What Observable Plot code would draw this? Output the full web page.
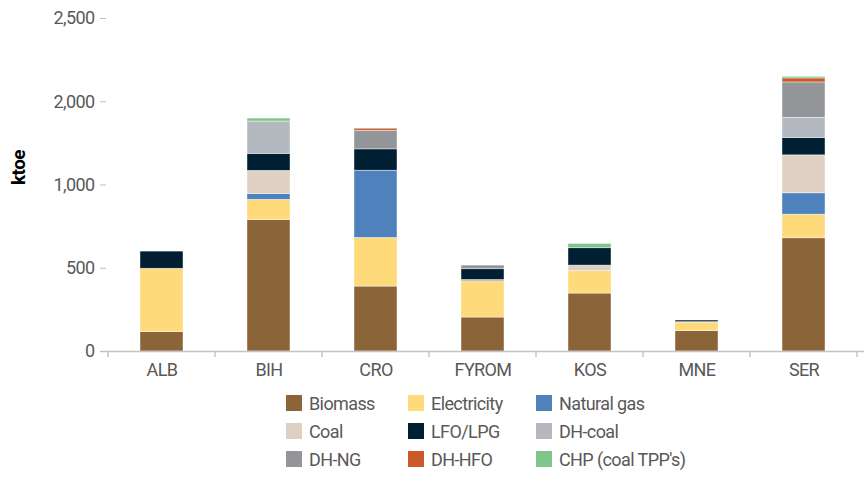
<!DOCTYPE html>
<html>
<head>
<meta charset="utf-8">
<script src="https://cdn.jsdelivr.net/npm/d3@7"></script>
<script src="https://cdn.jsdelivr.net/npm/@observablehq/plot@0.6"></script>
<style>
  body { margin: 0; background: #fff; font-family: Roboto, "DejaVu Sans Condensed", sans-serif; }
  #legend { display: grid; grid-template-columns: 122px 128px auto; margin: 4px 0 0 286px; width: 420px; }
  .item { display: flex; align-items: center; height: 28px; font-size: 18px; letter-spacing: -0.6px; color: #595959; white-space: nowrap; }
  .sw { width: 16px; height: 16px; margin-right: 7px; flex: none; }
  #chart svg text { letter-spacing: -0.6px; }
</style>
</head>
<body>
<div id="chart"></div>
<div id="legend"></div>
<script>
// Final energy consumption in households by fuel, ktoe
const countries = ["ALB", "BIH", "CRO", "FYROM", "KOS", "MNE", "SER"];
const fuels = ["Biomass", "Electricity", "Natural gas", "Coal", "LFO/LPG", "DH-coal", "DH-NG", "DH-HFO", "CHP (coal TPP's)"];
const fuelColors = ["#8b6539", "#ffda7a", "#4f81bd", "#ded1c4", "#001f33", "#b3b9bf", "#939598", "#c85b27", "#7fc68a"];

const biomass     = [116, 789, 390, 204, 348, 122, 680];
const electricity = [381, 122, 292, 218, 134,  52, 142];
const naturalGas  = [  0,  34, 404,   8,   0,   2, 128];
const coal        = [  0, 140,   0,   0,  34,   0, 228];
const lfoLpg      = [103, 102, 128,  64, 104,  10, 104];
const dhCoal      = [  0, 194,   0,   0,   0,   0, 122];
const dhNg        = [  0,   0, 112,  22,   0,   0, 212];
const dhHfo       = [  0,   0,  12,   0,   0,   0,  24];
const chp         = [  0,  18,   0,   0,  26,   0,  10];

const yTickValues = [0, 500, 1000, 1500, 2000];
const yTickLabels = ["0", "500", "1,000", "2,000", "2,500"];

const series = [biomass, electricity, naturalGas, coal, lfoLpg, dhCoal, dhNg, dhHfo, chp];
const rows = [];
countries.forEach((c, ci) => {
  series.forEach((s, fi) => {
    if (s[ci] > 0) rows.push({country: c, fuel: fuels[fi], value: s[ci]});
  });
});

const chart = Plot.plot({
  width: 864,
  height: 385,
  marginTop: 18,
  marginLeft: 106,
  marginRight: 5,
  marginBottom: 34,
  style: {fontFamily: "Roboto, 'DejaVu Sans Condensed', sans-serif", fontSize: "18px", color: "#595959", background: "white"},
  x: {domain: countries, paddingInner: 0.6, paddingOuter: 0.3, label: null},
  y: {domain: [0, 2000], label: null},
  color: {domain: fuels, range: fuelColors},
  marks: [
    Plot.barY(rows, {x: "country", y: "value", fill: "fuel", stroke: "white", strokeWidth: 0.6, strokeOpacity: 0.7}),
    Plot.ruleY([0], {stroke: "#c4c4c4", strokeWidth: 1.5, insetLeft: -5, insetRight: -5}),
    Plot.axisY({ticks: yTickValues, tickFormat: d => yTickLabels[yTickValues.indexOf(d)], tickSize: 6, tickPadding: 6, stroke: "#bdbdbd", label: null}),
    Plot.axisX({tickSize: 0, tickPadding: 12, label: null}),
    Plot.text(["ktoe"], {frameAnchor: "left", dx: -88, rotate: -90, fontWeight: "bold", fontSize: 19, fill: "#000"})
  ]
});

// category separators below the baseline, at band boundaries
const xs = chart.scale("x");
const ys = chart.scale("y");
const gap = (xs.step - xs.bandwidth) / 2;
const bounds = countries.map(c => xs.apply(c) - gap);
bounds.push(xs.apply(countries[countries.length - 1]) + xs.bandwidth + gap);
const y0 = ys.apply(0);
d3.select(chart).append("g")
  .selectAll("line").data(bounds).join("line")
  .attr("x1", d => d).attr("x2", d => d)
  .attr("y1", y0).attr("y2", y0 + 6)
  .attr("stroke", "#c4c4c4").attr("stroke-width", 1.5);

document.getElementById("chart").append(chart);

const legend = document.getElementById("legend");
fuels.forEach((f, i) => {
  const item = document.createElement("div");
  item.className = "item";
  const sw = document.createElement("span");
  sw.className = "sw";
  sw.style.background = fuelColors[i];
  item.append(sw, document.createTextNode(f));
  legend.append(item);
});
</script>
</body>
</html>
